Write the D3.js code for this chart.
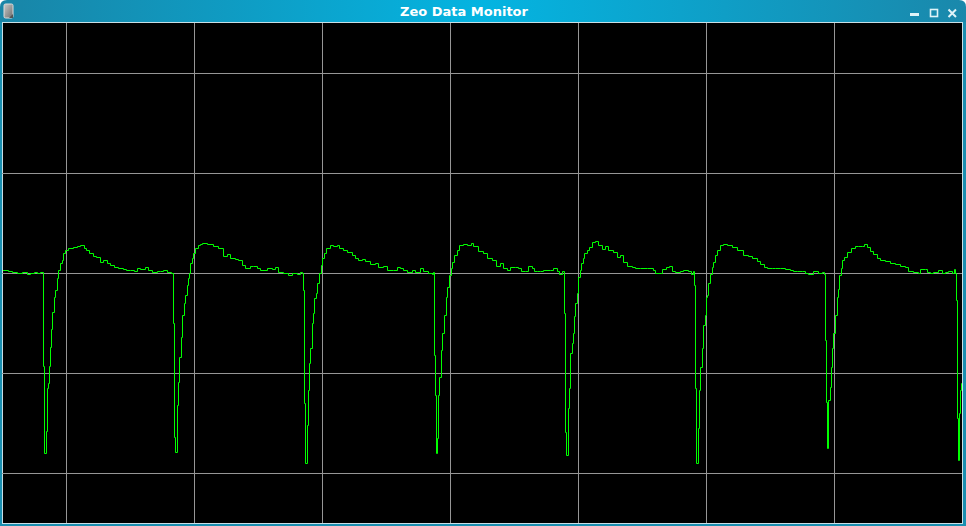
<!DOCTYPE html>
<html>
<head>
<meta charset="utf-8">
<script src="https://cdn.jsdelivr.net/npm/d3@7"></script>
<style>
  html, body { margin: 0; padding: 0; background: #ffffff; overflow: hidden; }
  svg { display: block; }
</style>
</head>
<body>
<svg id="chart" width="966" height="526"></svg>
<script>
// ---- data: sample index (time) and signal value ----
const windowTitle = "Zeo Data Monitor";
const xGridTicks = [64, 192, 320, 448, 576, 704, 832];
const yGridTicks = [-200, -100, 0, 100, 200];

const beat1 = [[0,3],[6,2],[10,1],[15,0],[20,1],[25,-1],[28,0],[32,1],[35,0],[38,1],[41,-93],[42,-180],[44,-158],[45,-115],[46,-110],[47,-93],[48,-74],[49,-56],[50,-39],[52,-24],[53,-17],[55,-5],[56,3],[58,10],[60,13],[61,20],[63,23],[66,25],[71,26],[75,27],[78,28],[82,25],[84,23],[87,20],[91,17],[94,16],[98,11],[101,13],[105,10],[108,8],[112,6],[116,5],[121,4],[124,3],[128,3],[132,2],[135,5],[138,4],[143,6],[146,3],[150,1],[155,2],[158,2],[161,3],[165,1],[169,0]];
const beat2 = [[171,-50],[172,-164],[173,-179],[175,-132],[176,-109],[177,-84],[179,-64],[180,-42],[182,-30],[183,-22],[185,-12],[186,-5],[187,0],[188,10],[190,15],[191,20],[193,25],[196,28],[198,29],[200,30],[205,29],[211,27],[216,25],[221,17],[225,19],[228,15],[233,14],[236,13],[240,8],[243,5],[248,7],[251,7],[255,5],[258,3],[265,5],[270,4],[273,6],[276,1],[281,0],[286,-2],[290,0],[295,-1],[298,1],[300,0]];
const beat3 = [[301,-17],[302,-130],[303,-190],[305,-152],[306,-117],[307,-90],[308,-75],[310,-50],[311,-40],[312,-25],[314,-20],[315,-10],[317,0],[319,8],[320,15],[322,20],[324,25],[328,28],[331,27],[335,28],[337,25],[341,23],[345,21],[350,18],[353,15],[356,13],[360,14],[363,12],[368,9],[373,10],[376,6],[381,7],[385,3],[391,3],[395,6],[398,5],[401,3],[405,1],[410,3],[413,1],[418,5],[421,2],[426,0],[430,-1],[431,1]];
const beat4 = [[432,-82],[433,-122],[434,-180],[435,-165],[436,-122],[437,-104],[439,-77],[440,-60],[442,-42],[444,-24],[445,-14],[447,-2],[449,5],[450,11],[452,18],[455,23],[457,28],[461,29],[465,28],[469,30],[471,27],[476,22],[481,20],[485,15],[490,13],[494,7],[498,10],[501,5],[505,3],[508,6],[513,6],[516,5],[519,2],[523,2],[526,7],[530,5],[532,2],[535,2],[538,2],[541,3],[548,3],[551,5],[555,2],[557,-1],[560,2]];
const beat5 = [[562,-40],[563,-159],[564,-182],[566,-135],[567,-115],[568,-80],[570,-70],[571,-60],[572,-43],[573,-30],[575,-20],[576,-4],[578,3],[579,10],[581,15],[582,20],[585,23],[587,26],[590,31],[593,32],[596,28],[600,24],[603,27],[606,23],[611,21],[615,16],[618,18],[621,11],[625,7],[630,6],[633,5],[638,5],[645,5],[651,3],[653,0],[658,0],[660,4],[664,6],[667,7],[670,2],[673,1],[678,2],[681,3],[686,2],[689,-1],[691,2]];
const beat6 = [[692,-12],[693,-115],[694,-190],[696,-155],[697,-117],[698,-94],[700,-75],[701,-52],[703,-42],[704,-24],[705,-22],[706,-10],[708,-1],[710,6],[711,11],[713,18],[715,23],[718,28],[721,29],[725,28],[730,26],[735,23],[741,18],[746,17],[750,15],[755,12],[758,9],[762,6],[765,5],[770,5],[773,5],[778,5],[783,4],[788,3],[791,2],[795,2],[800,2],[803,0],[806,-1],[811,2],[816,0],[820,1],[822,-1]];
const beat7 = [[823,-67],[824,-129],[825,-175],[826,-127],[828,-114],[829,-94],[830,-75],[831,-60],[833,-42],[835,-24],[836,-16],[837,-2],[839,5],[840,13],[842,16],[845,21],[849,25],[853,27],[856,27],[860,27],[862,29],[865,26],[868,22],[871,19],[875,15],[878,13],[883,12],[888,10],[893,9],[898,7],[903,6],[906,2],[911,1],[916,0],[918,4],[923,4],[925,1],[928,0],[931,1],[936,3],[940,0],[943,1],[946,2],[950,0],[952,4],[953,0]];
const beat8 = [[954,-27],[955,-145],[956,-187],[957,-140],[958,-117],[959,-110],[960,-85]];

const signal = [].concat(beat1, beat2, beat3, beat4, beat5, beat6, beat7, beat8)
  .map(d => ({ t: d[0], v: d[1] }));

// ---- layout ----
const W = 966, H = 526;
const plot = { x: 2, y: 23, w: 960, h: 500 };

const svg = d3.select("#chart");
const defs = svg.append("defs");

const tg = defs.append("linearGradient").attr("id", "titleGrad")
  .attr("x1", "0%").attr("x2", "100%").attr("y1", "0%").attr("y2", "0%");
tg.append("stop").attr("offset", "0%").attr("stop-color", "#1985a7");
tg.append("stop").attr("offset", "50%").attr("stop-color", "#04b4e1");
tg.append("stop").attr("offset", "100%").attr("stop-color", "#1a88ab");

const iconGrad = defs.append("linearGradient").attr("id", "iconGrad")
  .attr("x1", "0%").attr("x2", "100%").attr("y1", "0%").attr("y2", "100%");
iconGrad.append("stop").attr("offset", "0%").attr("stop-color", "#c8c8c8");
iconGrad.append("stop").attr("offset", "100%").attr("stop-color", "#6e6e6e");

// window frame with rounded top corners
const r = 7;
svg.append("path")
  .attr("d", `M0,${r} Q0,0 ${r},0 L${W - r},0 Q${W},0 ${W},${r} L${W},${H} L0,${H} Z`)
  .attr("fill", "url(#titleGrad)");
svg.append("rect").attr("x", 0).attr("y", 22).attr("width", W).attr("height", H - 22).attr("fill", "#1a8fb0");
svg.append("rect").attr("x", 2).attr("y", 22).attr("width", 961).attr("height", 502).attr("fill", "#c9dfe6");
svg.append("rect").attr("x", 3).attr("y", plot.y).attr("width", 959).attr("height", plot.h).attr("fill", "#000");

// title bar contents
svg.append("rect").attr("x", 4).attr("y", 4).attr("width", 9).attr("height", 14)
  .attr("rx", 1.5).attr("fill", "url(#iconGrad)").attr("stroke", "#dcdcdc").attr("stroke-width", 1);
svg.append("path").attr("d", "M9,18 L13,14 L13,18 Z").attr("fill", "#555");

svg.append("text")
  .attr("x", 464).attr("y", 16)
  .attr("text-anchor", "middle")
  .attr("font-family", "'DejaVu Sans', sans-serif")
  .attr("font-weight", "bold")
  .attr("font-size", 13)
  .attr("fill", "#ffffff")
  .text(windowTitle);

const btnCol = "#dff3f8";
svg.append("rect").attr("x", 910).attr("y", 13).attr("width", 9).attr("height", 3).attr("fill", btnCol);
svg.append("rect").attr("x", 930.5).attr("y", 9.5).attr("width", 7).attr("height", 7)
  .attr("fill", "none").attr("stroke", btnCol).attr("stroke-width", 1.6);
svg.append("path").attr("d", "M948.5,9.5 L956,17 M956,9.5 L948.5,17")
  .attr("stroke", btnCol).attr("stroke-width", 2).attr("fill", "none");

// ---- scales ----
const x = d3.scaleLinear().domain([0, 960]).range([plot.x, plot.x + plot.w]);
const y = d3.scaleLinear().domain([-250, 250]).range([plot.y + plot.h, plot.y]);

const g = svg.append("g").attr("transform", "translate(0.5,0.5)");
const clip = defs.append("clipPath").attr("id", "plotClip");
clip.append("rect").attr("x", 2.5).attr("y", plot.y - 0.5).attr("width", 959).attr("height", plot.h);

// grid via axes (d3 axes offset ticks by 0.5 themselves, so draw in un-shifted group)
const grid = svg.append("g");
const gridX = grid.append("g").attr("transform", `translate(0,${plot.y + plot.h})`)
  .call(d3.axisBottom(x).tickValues(xGridTicks).tickSize(-plot.h).tickFormat(""));
const gridY = grid.append("g").attr("transform", `translate(${plot.x},0)`)
  .call(d3.axisLeft(y).tickValues(yGridTicks).tickSize(-plot.w).tickFormat(""));
[gridX, gridY].forEach(a => {
  a.select(".domain").remove();
  a.selectAll("line").attr("stroke", "#969696").attr("stroke-width", 1);
});
grid.raise();

// trace
const line = d3.line().x(d => x(d.t)).y(d => y(d.v)).curve(d3.curveStepAfter);
const trace = svg.append("g").attr("transform", "translate(0.5,0.5)");
trace.append("path")
  .datum(signal)
  .attr("clip-path", "url(#plotClip)")
  .attr("d", line)
  .attr("fill", "none")
  .attr("stroke", "#00ff00")
  .attr("stroke-width", 1);
</script>
</body>
</html>
